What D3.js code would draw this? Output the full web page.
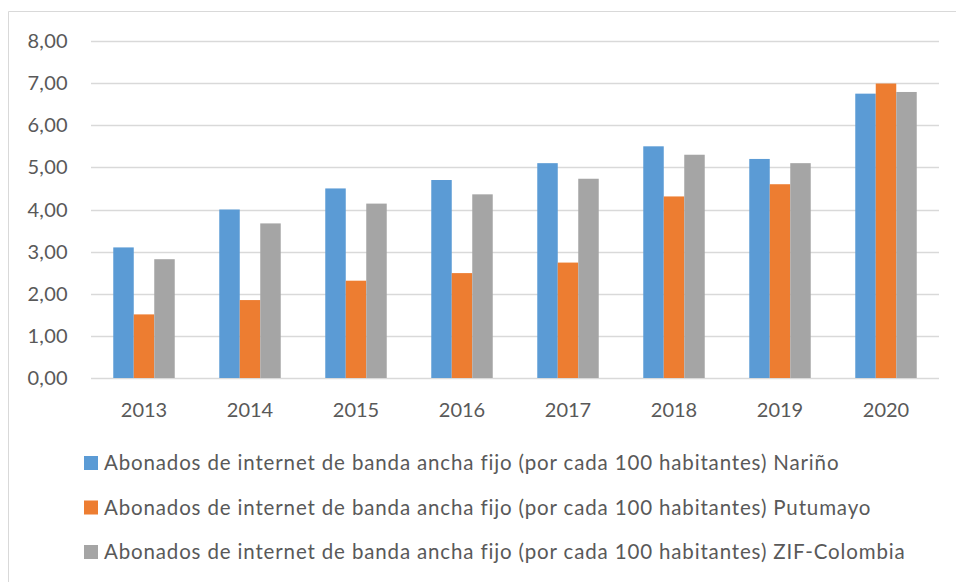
<!DOCTYPE html>
<html>
<head>
  <meta charset="utf-8">
  <title>Abonados de internet de banda ancha fijo</title>
  <style>
    html, body { margin: 0; padding: 0; background: #fff; }
    svg { display: block; }
    text { font-family: Lato, "Open Sans", sans-serif; fill: #595959; }
  </style>
</head>
<body>
<svg id="chart" width="956" height="582"></svg>

<script src="https://cdn.jsdelivr.net/npm/d3@7/dist/d3.min.js"></script>
<script>
  var years = ['2013', '2014', '2015', '2016', '2017', '2018', '2019', '2020'];
  var narino = [3.10, 4.00, 4.50, 4.70, 5.10, 5.50, 5.20, 6.75];
  var putumayo = [1.51, 1.85, 2.31, 2.49, 2.74, 4.31, 4.60, 6.99];
  var zif = [2.82, 3.67, 4.14, 4.36, 4.73, 5.30, 5.10, 6.79];
  var seriesNames = [
    'Abonados de internet de banda ancha fijo (por cada 100 habitantes) Nariño',
    'Abonados de internet de banda ancha fijo (por cada 100 habitantes) Putumayo',
    'Abonados de internet de banda ancha fijo (por cada 100 habitantes) ZIF-Colombia'
  ];
  var yTicks = [0, 1, 2, 3, 4, 5, 6, 7, 8];

  var colors = ['#5B9BD5', '#ED7D31', '#A5A5A5'];
  var seriesValues = [narino, putumayo, zif];

  var svg = d3.select('#chart');

  // chart frame (only top and left edges are visible in the crop)
  svg.append('path')
    .attr('d', 'M8.5,600 V11.5 H956')
    .attr('fill', 'none')
    .attr('stroke', '#d9d9d9')
    .attr('stroke-width', 1);

  var plot = { left: 91, right: 939, top: 41, bottom: 378 };

  var x = d3.scaleBand()
    .domain(years)
    .range([plot.left, plot.right])
    .paddingInner(0)
    .paddingOuter(0);

  var groupWidth = x.bandwidth() * 0.58;
  var x1 = d3.scaleBand()
    .domain(d3.range(seriesNames.length))
    .range([0, groupWidth]);

  var y = d3.scaleLinear()
    .domain([0, 8])
    .range([plot.bottom, plot.top]);

  // gridlines
  svg.append('g')
    .selectAll('line')
    .data(yTicks)
    .join('line')
      .attr('x1', plot.left)
      .attr('x2', plot.right)
      .attr('y1', function(d) { return Math.round(y(d)) + 0.5; })
      .attr('y2', function(d) { return Math.round(y(d)) + 0.5; })
      .attr('stroke', '#d9d9d9')
      .attr('stroke-width', 1.3);

  // y tick labels
  var fmt = function(d) { return d.toFixed(2).replace('.', ','); };
  svg.append('g')
    .selectAll('text')
    .data(yTicks)
    .join('text')
      .attr('x', 68)
      .attr('y', function(d) { return y(d); })
      .attr('dy', '0.35em')
      .attr('text-anchor', 'end')
      .style('font-size', '20px')
      .style('letter-spacing', '0.3px')
      .text(fmt);

  // bars
  var groups = svg.append('g')
    .selectAll('g')
    .data(years)
    .join('g')
      .attr('transform', function(d) {
        return 'translate(' + (x(d) + (x.bandwidth() - groupWidth) / 2) + ',0)';
      });

  groups.selectAll('rect')
    .data(function(d, i) {
      return seriesValues.map(function(s, k) { return { k: k, v: s[i] }; });
    })
    .join('rect')
      .attr('x', function(d) { return x1(d.k); })
      .attr('width', x1.bandwidth())
      .attr('y', function(d) { return y(d.v); })
      .attr('height', function(d) { return y(0) - y(d.v); })
      .attr('fill', function(d) { return colors[d.k]; });

  // x labels
  svg.append('g')
    .selectAll('text')
    .data(years)
    .join('text')
      .attr('x', function(d) { return x(d) + x.bandwidth() / 2; })
      .attr('y', 410)
      .attr('dy', '0.35em')
      .attr('text-anchor', 'middle')
      .style('font-size', '20px')
      .text(function(d) { return d; });

  // legend
  var legend = svg.append('g')
    .selectAll('g')
    .data(seriesNames)
    .join('g')
      .attr('transform', function(d, i) { return 'translate(84,' + (463 + i * 44.5) + ')'; });

  legend.append('rect')
    .attr('x', 0)
    .attr('y', -7)
    .attr('width', 14)
    .attr('height', 14)
    .attr('fill', function(d, i) { return colors[i]; });

  legend.append('text')
    .attr('x', 20)
    .attr('y', 0)
    .attr('dy', '0.35em')
    .style('font-size', '20.5px')
    .style('letter-spacing', '0.85px')
    .text(function(d) { return d; });
</script>
</body>
</html>
